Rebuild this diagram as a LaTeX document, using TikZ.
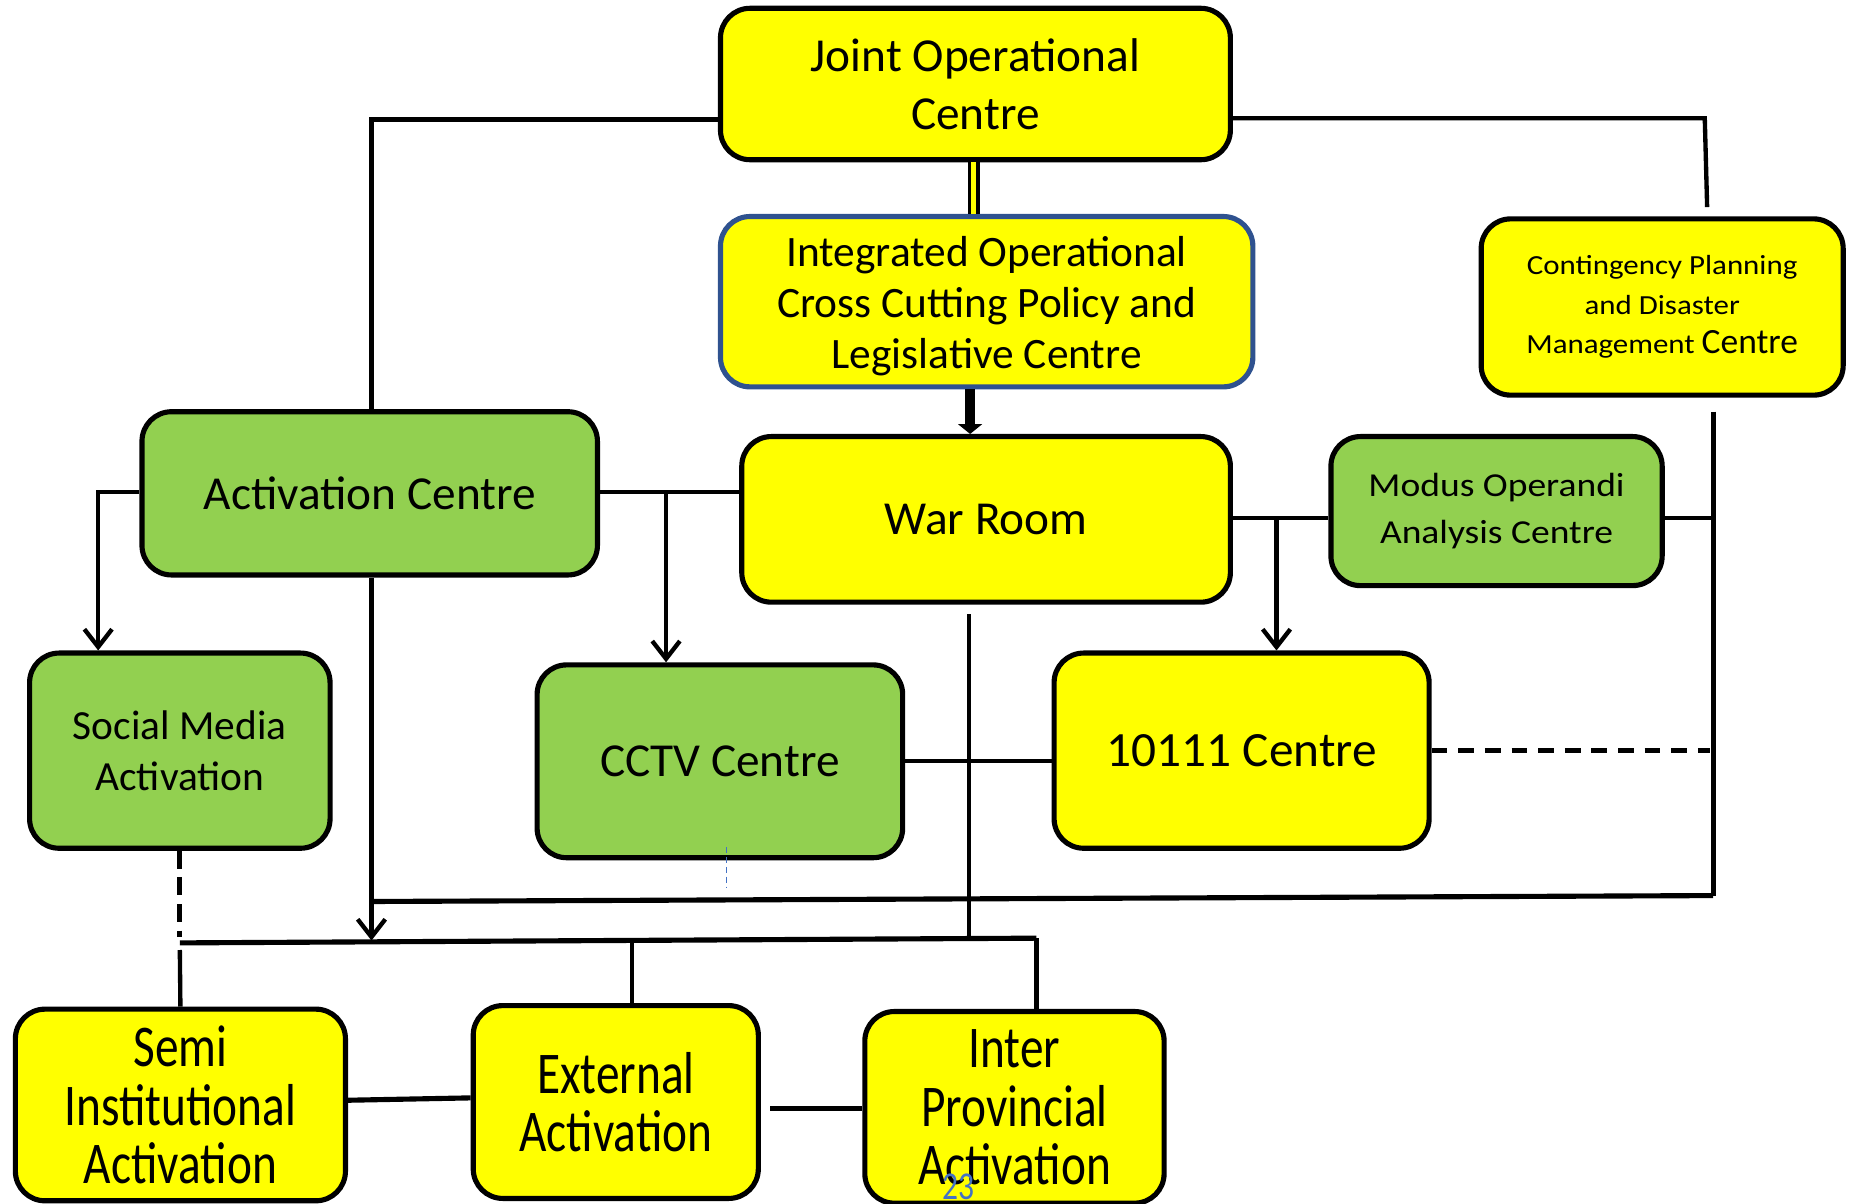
\documentclass[tikz,border=0pt]{standalone}
\usepackage{fontspec}
\setmainfont{Carlito}
\newfontfamily\widefont[FakeStretch=1.12]{Carlito}
\newfontfamily\narrowfont[FakeStretch=0.8]{Carlito}
\usetikzlibrary{arrows.meta}
\definecolor{boxyellow}{RGB}{255,255,0}
\definecolor{boxgreen}{RGB}{146,208,80}
\definecolor{boxblue}{RGB}{47,82,143}
\definecolor{pageblue}{RGB}{68,114,196}
\begin{document}
\begin{tikzpicture}[x=0.6pt,y=-0.6pt,
  box/.style={draw=black, line width=2.6pt, rounded corners=15pt, align=center, inner sep=0pt},
  ybox/.style={box, fill=boxyellow},
  gbox/.style={box, fill=boxgreen},
  conn/.style={line width=2.2pt},
  bus/.style={line width=2.6pt},
  arr/.style={conn, -{Straight Barb[length=9pt,width=14pt]}},
  dashconn/.style={bus, dash pattern=on 9pt off 4.5pt},
  bigfont/.style={font={\fontsize{24}{29.4}\selectfont}},
  midfont/.style={font={\fontsize{21}{25.8}\selectfont}},
  condfont/.style={font={\narrowfont\fontsize{30}{29.7}\selectfont}},
]
\useasboundingbox (0,0) rectangle (1568,1017);

% ---------- nodes ----------
\node[ybox, bigfont, minimum width=258.6pt, minimum height=76.8pt] (joc) at (824.5,71) {Joint Operational\\Centre};
\node[ybox, draw=boxblue, font={\fontsize{22}{25.8}\selectfont}, minimum width=270pt, minimum height=86.4pt] (ioc) at (834,255) {\rule{0pt}{20pt}Integrated Operational\\Cross Cutting Policy and\\Legislative Centre};
\node[ybox, font={\widefont\fontsize{14}{20}\selectfont}, minimum width=183.6pt, minimum height=89.4pt] (cpdm) at (1405,259.5) {Contingency Planning\\and Disaster\\Management {\rmfamily\fontsize{18}{20}\selectfont Centre}};
\node[gbox, bigfont, minimum width=231pt, minimum height=82.8pt] (act) at (312.5,417) {Activation Centre};
\node[ybox, bigfont, minimum width=247.8pt, minimum height=84pt] (war) at (833.5,439) {War Room};
\node[gbox, font={\widefont\fontsize{17}{23.4}\selectfont}, minimum width=168pt, minimum height=75.6pt] (modus) at (1265,432) {Modus Operandi\\Analysis Centre};
\node[gbox, midfont, minimum width=152.4pt, minimum height=99pt] (social) at (152,634.5) {Social Media\\Activation};
\node[gbox, bigfont, minimum width=185.4pt, minimum height=97.8pt] (cctv) at (608.5,643.5) {CCTV Centre};
\node[ybox, font={\fontsize{25}{30}\selectfont}, minimum width=190.2pt, minimum height=99pt] (c10111) at (1049.5,634.5) {10111 Centre};
\node[ybox, condfont, minimum width=167.4pt, minimum height=97.2pt] (semi) at (152.5,934) {Semi\\Institutional\\Activation};
\node[ybox, condfont, minimum width=144.6pt, minimum height=97.8pt] (ext) at (520.5,931.5) {External\\Activation};
\node[ybox, condfont, minimum width=151.8pt, minimum height=97.2pt] (inter) at (857.5,936) {Inter\\Provincial\\Activation};
\node[text=pageblue, font={\narrowfont\fontsize{20}{22}\selectfont}, inner sep=0pt] (pgnum) at (810,1003) {23};

% ---------- helper coordinates ----------
\coordinate (jl) at (314,101);
\coordinate (jr) at (1441,100);
\coordinate (jre) at (1443,175);
\coordinate (c820) at (820,0);
\coordinate (c823) at (823,0);
\coordinate (al) at (83,416);
\coordinate (ab) at (563,416);
\coordinate (ad) at (314,795);
\coordinate (h1l) at (314,762);
\coordinate (h1r) at (1448,757);
\coordinate (vt) at (1448,348);
\coordinate (wr) at (1448,438);
\coordinate (wb) at (1079,438);
\coordinate (dr) at (1445,634);
\coordinate (wv) at (819,519);
\coordinate (wvb) at (819,795);
\coordinate (busl) at (152,797);
\coordinate (busr) at (876,793);
\coordinate (bx) at (534,796);
\coordinate (sd) at (152,792);
\coordinate (su) at (152,803);
\coordinate (el) at (651,937);
\coordinate (cc) at (0,643);
\coordinate (sl) at (0,930);
\coordinate (sr) at (0,928);
\coordinate (tk1) at (614,716);
\coordinate (tk2) at (614,750);

% ---------- connectors ----------
\draw[conn] (joc.west |- jl) -- (jl) -- (jl |- act.north);
\draw[conn] (joc.east |- jr) -- (jr) -- (jre);
\draw[line width=1.7pt, double=boxyellow, double distance=2.8pt] (joc.south -| c823) -- (ioc.north -| c823);
\draw[line width=5pt, -{Triangle[length=5pt,width=12pt]}] (ioc.south -| c820) -- (war.north -| c820);

\draw[arr] (act.west |- al) -- (al) -- (al |- social.north);
\draw[conn] (act.east |- al) -- (war.west |- al);
\draw[arr] (ab) -- (ab |- cctv.north);
\draw[arr] (act.south -| ad) -- (ad);

\draw[bus] (h1l) -- (h1r);
\draw[bus] (vt) -- (h1r);
\draw[conn] (modus.east |- wr) -- (wr);
\draw[conn] (war.east |- wb) -- (modus.west |- wb);
\draw[arr] (wb) -- (wb |- c10111.north);
\draw[bus, dash pattern=on 8pt off 5.5pt] (c10111.east |- dr) -- (dr);
\draw[conn] (cctv.east |- cc) -- (c10111.west |- cc);
\draw[conn] (wv) -- (wvb);

\draw[bus] (busl) -- (busr);
\draw[dashconn] (social.south) -- (sd);
\draw[conn] (su) -- (semi.north);
\draw[conn] (bx) -- (bx |- ext.north);
\draw[conn] (busr) -- (busr |- inter.north);
\draw[bus] (semi.east |- sl) -- (ext.west |- sr);
\draw[bus] (el) -- (inter.west |- el);

\draw[pageblue, line width=0.6pt, dash pattern=on 3pt off 2pt] (tk1) -- (tk2);
\end{tikzpicture}
\end{document}
